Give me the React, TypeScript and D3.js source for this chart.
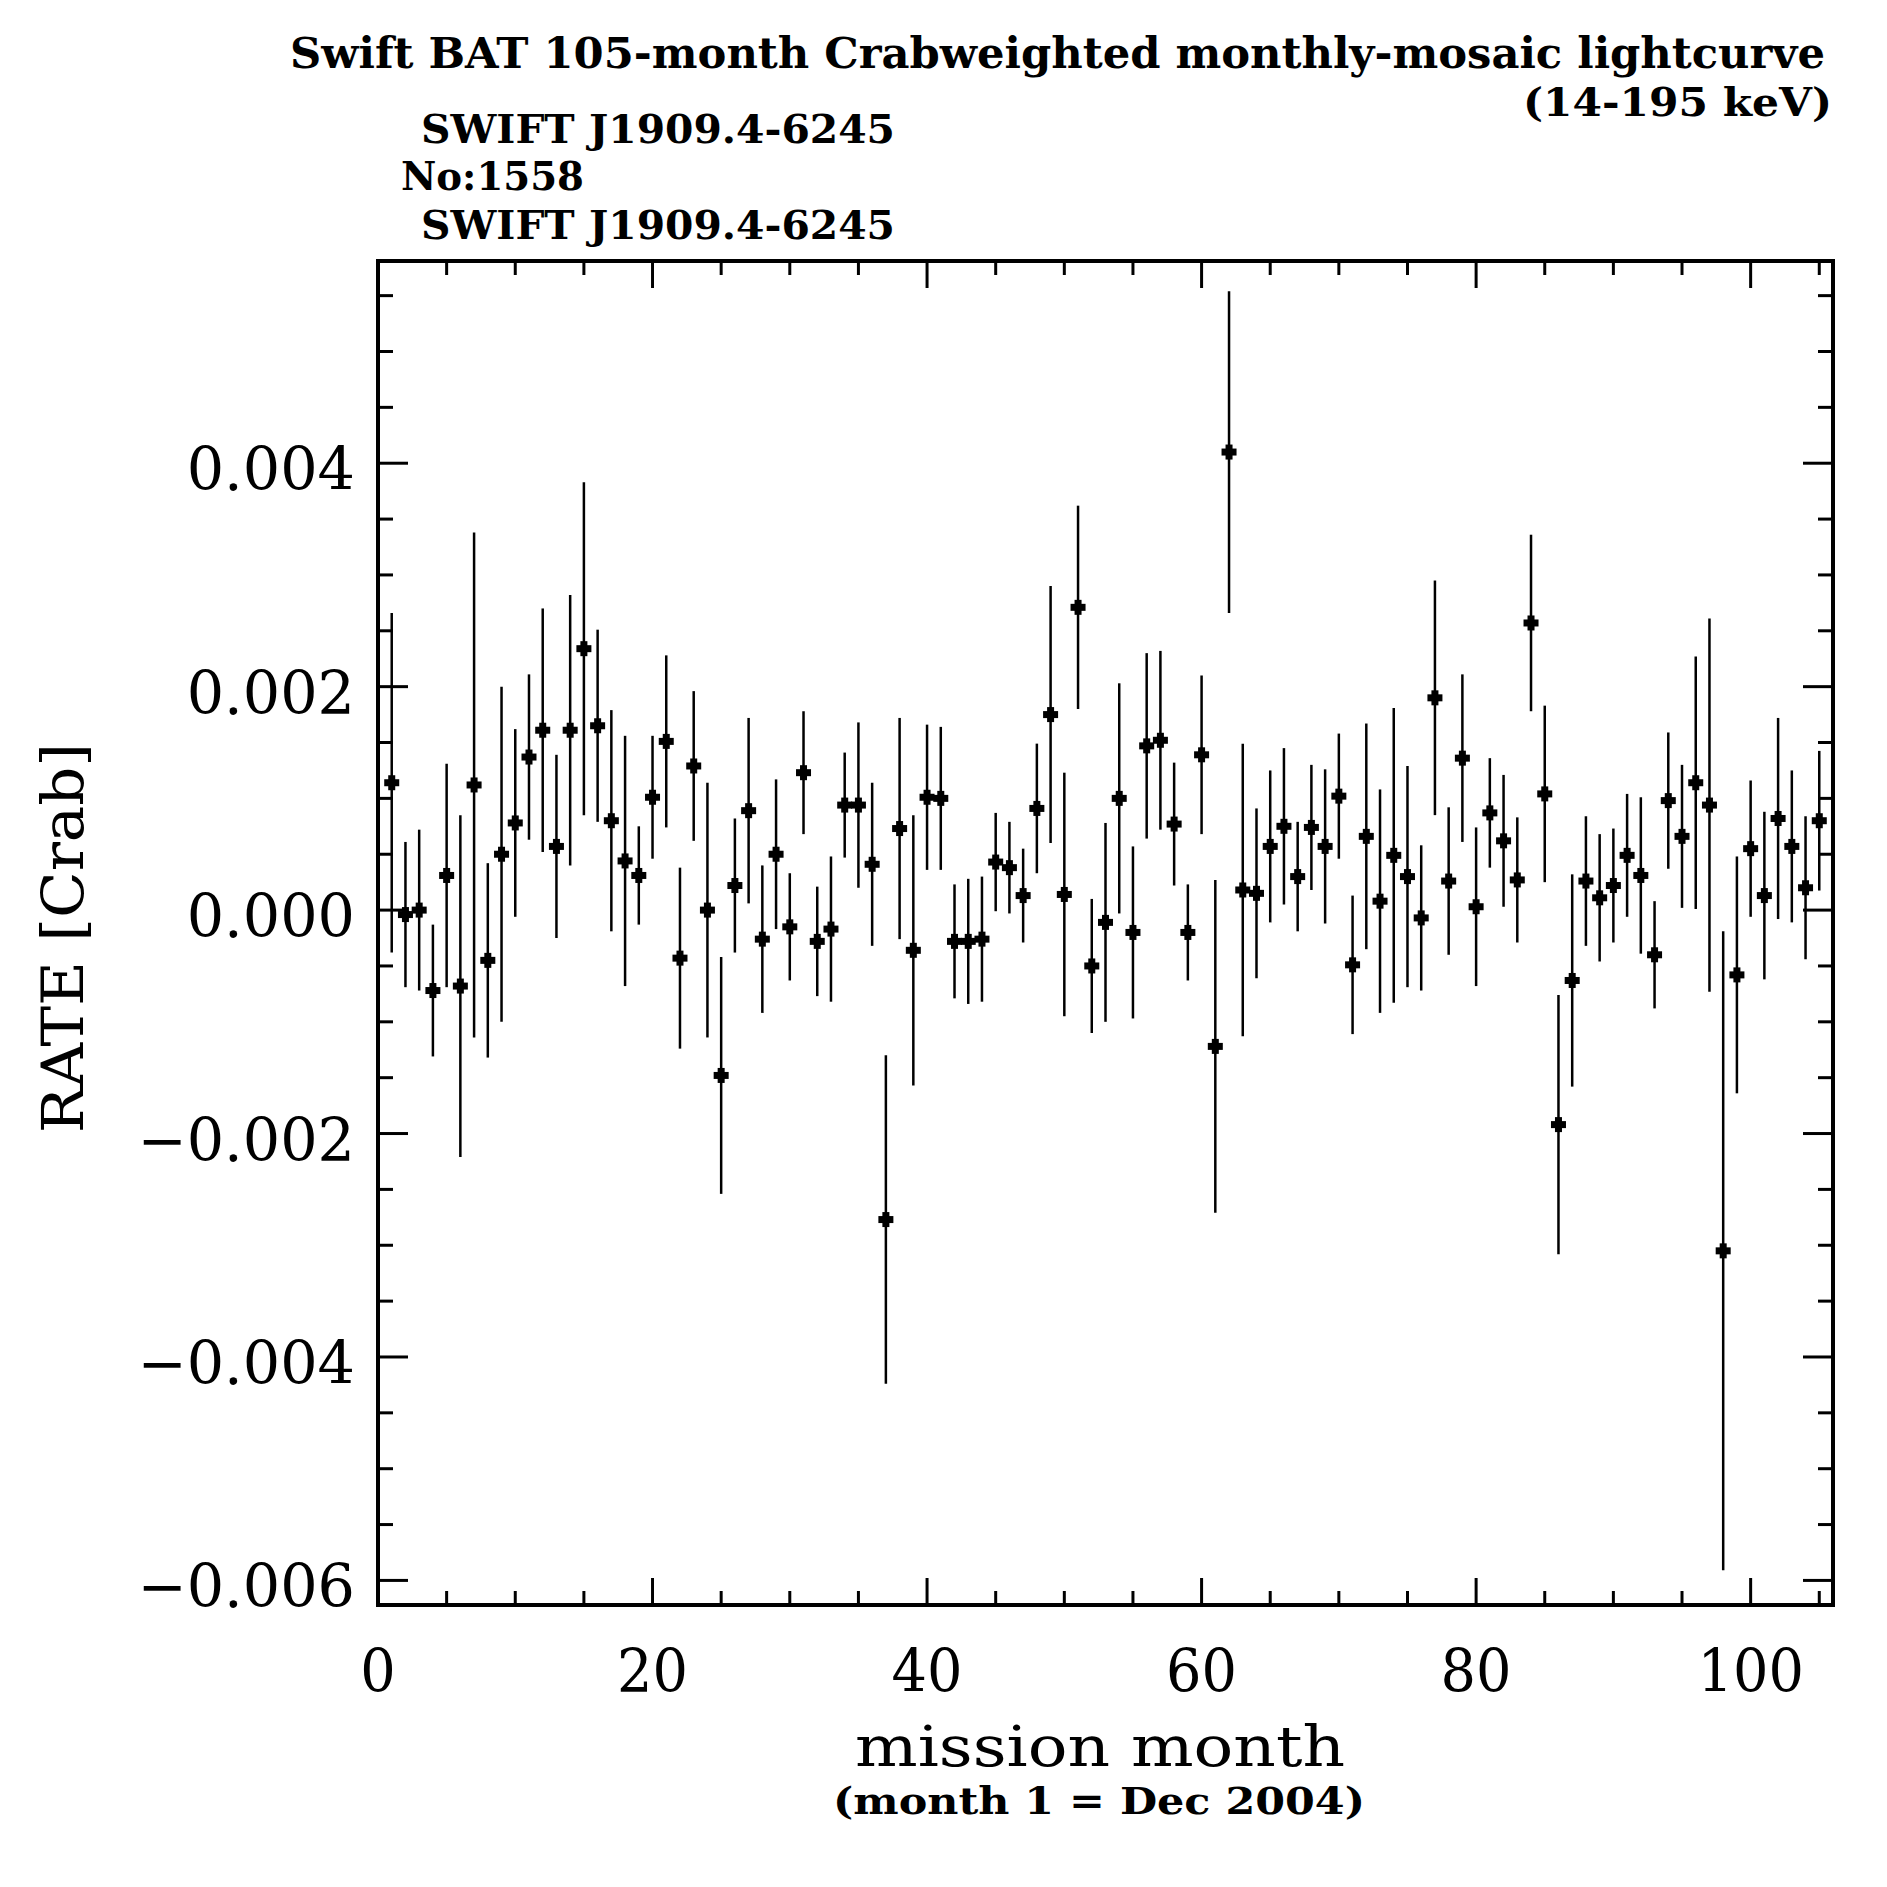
import React from 'react';
import * as d3 from 'd3';

const months = [
  1, 2, 3, 4, 5, 6, 7, 8, 9, 10, 11, 12, 13, 14, 15, 16, 17, 18, 19, 20,
  21, 22, 23, 24, 25, 26, 27, 28, 29, 30, 31, 32, 33, 34, 35, 36, 37, 38, 39, 40,
  41, 42, 43, 44, 45, 46, 47, 48, 49, 50, 51, 52, 53, 54, 55, 56, 57, 58, 59, 60,
  61, 62, 63, 64, 65, 66, 67, 68, 69, 70, 71, 72, 73, 74, 75, 76, 77, 78, 79, 80,
  81, 82, 83, 84, 85, 86, 87, 88, 89, 90, 91, 92, 93, 94, 95, 96, 97, 98, 99, 100,
  101, 102, 103, 104, 105,
];

const rate = [
  0.00114, -0.00004, 0.0, -0.00072, 0.00031, -0.00068, 0.00112, -0.00045, 0.0005, 0.00078,
  0.00137, 0.00161, 0.00057, 0.00161, 0.00234, 0.00165, 0.0008, 0.00044, 0.00031, 0.00101,
  0.00151, -0.00043, 0.00129, 0.0, -0.00148, 0.00022, 0.00089, -0.00026, 0.0005, -0.00015,
  0.00123, -0.00028, -0.00017, 0.00094, 0.00094, 0.00041, -0.00277, 0.00073, -0.00036, 0.00101,
  0.001, -0.00028, -0.00028, -0.00026, 0.00043, 0.00038, 0.00013, 0.00091, 0.00175, 0.00014,
  0.00271, -0.0005, -0.00011, 0.001, -0.0002, 0.00147, 0.00152, 0.00077, -0.0002, 0.00139,
  -0.00122, 0.0041, 0.00018, 0.00015, 0.00057, 0.00075, 0.0003, 0.00074, 0.00057, 0.00102,
  -0.00049, 0.00066, 0.00008, 0.00049, 0.0003, -0.00007, 0.0019, 0.00026, 0.00136, 0.00003,
  0.00087, 0.00062, 0.00027, 0.00257, 0.00104, -0.00192, -0.00063, 0.00026, 0.00011, 0.00022,
  0.00049, 0.00031, -0.0004, 0.00098, 0.00066, 0.00114, 0.00094, -0.00305, -0.00058, 0.00055,
  0.00013, 0.00082, 0.00057, 0.0002, 0.0008,
];

const rateErr = [
  0.00152, 0.00065, 0.00072, 0.00059, 0.001, 0.00153, 0.00226, 0.00087, 0.0015, 0.00084,
  0.00074, 0.00109, 0.00082, 0.00121, 0.00149, 0.00086, 0.00099, 0.00112, 0.00044, 0.00055,
  0.00077, 0.00081, 0.00067, 0.00114, 0.00106, 0.0006, 0.00083, 0.00066, 0.00067, 0.00048,
  0.00055, 0.00049, 0.00065, 0.00047, 0.00074, 0.00073, 0.00147, 0.00099, 0.00121, 0.00065,
  0.00064, 0.00051, 0.00056, 0.00056, 0.00044, 0.00041, 0.00042, 0.00058, 0.00115, 0.00109,
  0.00091, 0.0006, 0.00089, 0.00103, 0.00077, 0.00083, 0.0008, 0.00055, 0.00043, 0.00071,
  0.00149, 0.00144, 0.00131, 0.00076, 0.00068, 0.0007, 0.00049, 0.00056, 0.00069, 0.00056,
  0.00062, 0.00101, 0.001, 0.00132, 0.00099, 0.00065, 0.00105, 0.00066, 0.00075, 0.00071,
  0.00049, 0.00059, 0.00056, 0.00079, 0.00079, 0.00116, 0.00095, 0.00058, 0.00057, 0.00051,
  0.00055, 0.0007, 0.00048, 0.00061, 0.00064, 0.00113, 0.00167, 0.00286, 0.00106, 0.00061,
  0.00075, 0.0009, 0.00068, 0.00064, 0.000625,
];

const xTickValues = [0, 20, 40, 60, 80, 100];
const yTickValues = [-0.006, -0.004, -0.002, 0, 0.002, 0.004];

const titleMain = 'Swift BAT 105-month Crabweighted monthly-mosaic lightcurve';
const titleBand = '(14-195 keV)';
const sourceName = 'SWIFT J1909.4-6245';
const sourceNumber = 'No:1558';
const xTitle = 'mission month';
const xSubTitle = '(month 1 = Dec 2004)';
const yTitle = 'RATE [Crab]';

const LEFT = 378;
const RIGHT = 1833;
const TOP = 261;
const BOTTOM = 1605;

export default function App() {
  const x = d3.scaleLinear().domain([0, 106]).range([LEFT, RIGHT]);
  const y = d3.scaleLinear().domain([-0.00622, 0.00581]).range([BOTTOM, TOP]);

  const xMinor = d3.range(0, 22).map((k) => k * 5).filter((v) => v <= 106 && v % 20 !== 0);
  const yMinor = d3
    .range(-12, 12)
    .filter((k) => k % 4 !== 0)
    .map((k) => k * 0.0005)
    .filter((v) => v >= -0.00622 && v <= 0.00581);

  const fmt = (v: number) => {
    const s = d3.format('.3f')(Math.abs(v));
    return (v < -1e-12 ? '\u2212' : '') + s;
  };

  const xMaj = 27, xMin = 14, yMaj = 30, yMin = 15;
  const tickFont = 'DejaVu Serif';

  return (
    <svg
      width={1887}
      height={1887}
      viewBox="0 0 1887 1887"
      style={{ position: 'absolute', left: 0, top: 0, display: 'block', background: '#fff' }}
    >
      <rect x={0} y={0} width={1887} height={1887} fill="#fff" />

      {/* titles */}
      <g fontFamily="DejaVu Serif" fontWeight="bold" fill="#000">
        <text x={290} y={68} fontSize={42} textLength={1535} lengthAdjust="spacingAndGlyphs">{titleMain}</text>
        <text x={1523} y={116} fontSize={40} textLength={309} lengthAdjust="spacingAndGlyphs">{titleBand}</text>
        <text x={421} y={143} fontSize={40} textLength={474} lengthAdjust="spacingAndGlyphs">{sourceName}</text>
        <text x={401} y={190} fontSize={40} textLength={183} lengthAdjust="spacingAndGlyphs">{sourceNumber}</text>
        <text x={421} y={239} fontSize={40} textLength={474} lengthAdjust="spacingAndGlyphs">{sourceName}</text>
      </g>

      {/* error bars */}
      <g stroke="#000" strokeWidth={2.5}>
        {months.map((m, i) => (
          <line
            key={'e' + m}
            x1={x(m)}
            x2={x(m)}
            y1={y(rate[i] - rateErr[i])}
            y2={y(rate[i] + rateErr[i])}
          />
        ))}
      </g>
      {/* markers */}
      <g fill="#000">
        {months.map((m, i) => (
          <g key={'p' + m} transform={`translate(${x(m)},${y(rate[i])})`}>
            <rect x={-7.5} y={-3.5} width={15} height={7} />
            <rect x={-3.5} y={-7.5} width={7} height={15} />
          </g>
        ))}
      </g>

      {/* frame */}
      <rect x={LEFT} y={TOP} width={RIGHT - LEFT} height={BOTTOM - TOP} fill="none" stroke="#000" strokeWidth={4} />

      {/* ticks */}
      <g stroke="#000" strokeWidth={3}>
        {xTickValues.map((v) => (
          <g key={'xt' + v}>
            <line x1={x(v)} x2={x(v)} y1={BOTTOM} y2={BOTTOM - xMaj} />
            <line x1={x(v)} x2={x(v)} y1={TOP} y2={TOP + xMaj} />
          </g>
        ))}
        {xMinor.map((v) => (
          <g key={'xm' + v}>
            <line x1={x(v)} x2={x(v)} y1={BOTTOM} y2={BOTTOM - xMin} />
            <line x1={x(v)} x2={x(v)} y1={TOP} y2={TOP + xMin} />
          </g>
        ))}
        {yTickValues.map((v) => (
          <g key={'yt' + v}>
            <line x1={LEFT} x2={LEFT + yMaj} y1={y(v)} y2={y(v)} />
            <line x1={RIGHT} x2={RIGHT - yMaj} y1={y(v)} y2={y(v)} />
          </g>
        ))}
        {yMinor.map((v) => (
          <g key={'ym' + v}>
            <line x1={LEFT} x2={LEFT + yMin} y1={y(v)} y2={y(v)} />
            <line x1={RIGHT} x2={RIGHT - yMin} y1={y(v)} y2={y(v)} />
          </g>
        ))}
      </g>

      {/* tick labels */}
      <g fontFamily={tickFont} fontSize={60} fill="#000">
        {xTickValues.map((v) => (
          <text key={'xl' + v} transform={`translate(${x(v)},1692) scale(0.93,1)`} textAnchor="middle">
            {String(v)}
          </text>
        ))}
        {yTickValues.map((v) => (
          <text key={'yl' + v} transform={`translate(355,${y(v) + 27}) scale(0.98,1)`} textAnchor="end">
            {fmt(v)}
          </text>
        ))}
      </g>

      {/* axis titles */}
      <g fontFamily="DejaVu Serif" fill="#000">
        <text x={1100} y={1766} fontSize={56} textAnchor="middle" textLength={490} lengthAdjust="spacingAndGlyphs">
          {xTitle}
        </text>
        <text x={1099} y={1814} fontSize={38} fontWeight="bold" textAnchor="middle" textLength={532} lengthAdjust="spacingAndGlyphs">
          {xSubTitle}
        </text>
        <text
          transform="translate(83,938) rotate(-90)"
          fontSize={58}
          textAnchor="middle"
          textLength={390}
          lengthAdjust="spacingAndGlyphs"
        >
          {yTitle}
        </text>
      </g>
    </svg>
  );
}
